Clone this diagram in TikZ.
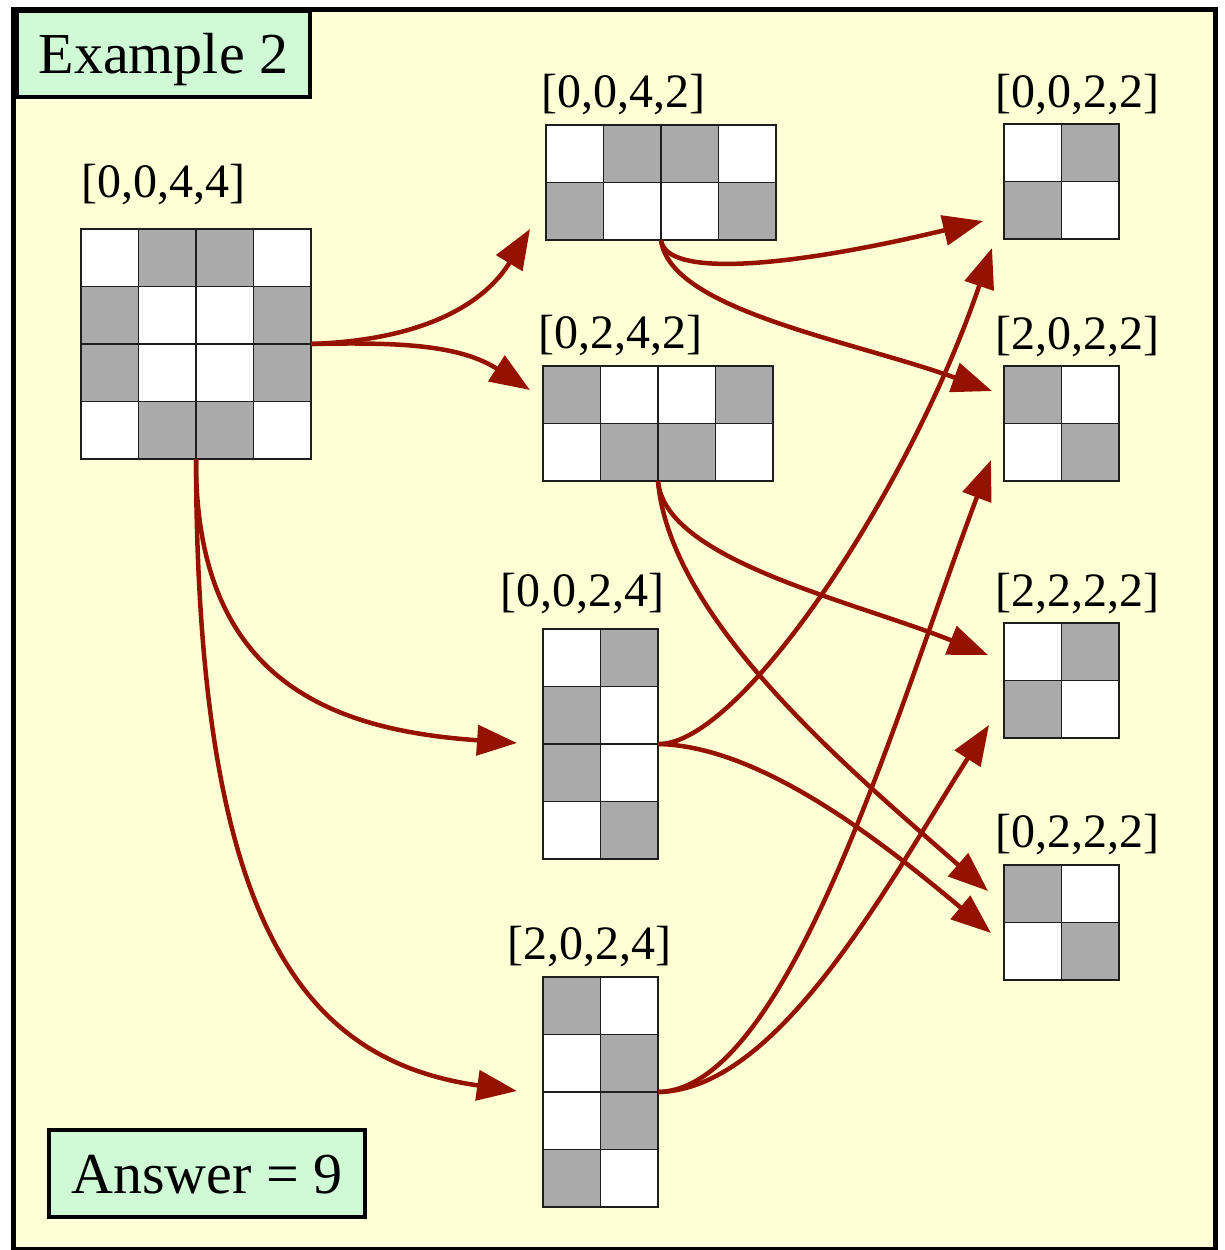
\documentclass[tikz,border=0pt]{standalone}
\usepackage{fontspec}
\setmainfont{Liberation Serif}
\usetikzlibrary{arrows.meta,calc}
\definecolor{bgyellow}{RGB}{255,255,213}
\definecolor{boxgreen}{RGB}{207,250,213}
\definecolor{cellgray}{RGB}{170,170,170}
\definecolor{arrowred}{RGB}{150,18,0}
\definecolor{gridcol}{RGB}{30,30,30}
\newcommand{\graycells}[2]{\foreach \c/\r in {#2}{\fill[cellgray] ($(#1.north west)+(\c*57.5,\r*57.5)$) rectangle ++(57.5,57.5);}}
\newcommand{\celllines}[3]{\foreach \c in {0,...,#2}{\foreach \r in {0,...,#3}{\draw[gridline] ($(#1.north west)+(\c*57.5,\r*57.5)$) rectangle ++(57.5,57.5);}}}
\begin{document}
\begin{tikzpicture}[x=1pt,y=-1pt,
  gridbox/.style={rectangle, fill=white, inner sep=0, outer sep=0},
  gridline/.style={draw=gridcol, line width=1.3pt},
  lbl/.style={font=\fontsize{48}{48}\selectfont, anchor=base, inner sep=0},
  namebox/.style={rectangle, draw=black, line width=4pt, fill=boxgreen, inner sep=0, font=\fontsize{58}{58}\selectfont, text height=40pt, text depth=1pt},
  link/.style={draw=arrowred, line width=4.5pt, -{Triangle[length=40pt,width=30pt]}}]
\useasboundingbox (0,0) rectangle (1224,1250);
\fill[bgyellow] (13,9) rectangle (1215,1249);
\draw[line width=5pt] (13,9) rectangle (1215,1249);

\node[namebox, minimum width=293, minimum height=86] (title) at (163.5,54) {Example 2};
\node[namebox, minimum width=316, minimum height=87] (answer) at (207,1173.5) {Answer = 9};

% grids
\node[gridbox, minimum width=230, minimum height=230] (g1) at (196,344) {};
\node[gridbox, minimum width=230, minimum height=115] (g2) at (661,182.5) {};
\node[gridbox, minimum width=230, minimum height=115] (g3) at (658,423.5) {};
\node[gridbox, minimum width=115, minimum height=230] (g4) at (600.5,744) {};
\node[gridbox, minimum width=115, minimum height=230] (g5) at (600.5,1092) {};
\node[gridbox, minimum width=115, minimum height=115] (r1) at (1061.5,181.5) {};
\node[gridbox, minimum width=115, minimum height=115] (r2) at (1061.5,423.5) {};
\node[gridbox, minimum width=115, minimum height=115] (r3) at (1061.5,680.5) {};
\node[gridbox, minimum width=115, minimum height=115] (r4) at (1061.5,922.5) {};

\graycells{g1}{1/0,2/0,0/1,3/1,0/2,3/2,1/3,2/3}
\graycells{g2}{1/0,2/0,0/1,3/1}
\graycells{g3}{0/0,3/0,1/1,2/1}
\graycells{g4}{1/0,0/1,0/2,1/3}
\graycells{g5}{0/0,1/1,1/2,0/3}
\graycells{r1}{1/0,0/1}
\graycells{r2}{0/0,1/1}
\graycells{r3}{1/0,0/1}
\graycells{r4}{0/0,1/1}

\celllines{g1}{3}{3}
\celllines{g2}{3}{1}
\celllines{g3}{3}{1}
\celllines{g4}{1}{3}
\celllines{g5}{1}{3}
\celllines{r1}{1}{1}
\celllines{r2}{1}{1}
\celllines{r3}{1}{1}
\celllines{r4}{1}{1}

% labels
\node[lbl] (l1) at (163,197) {[0,0,4,4]};
\node[lbl] (l2) at (623,107) {[0,0,4,2]};
\node[lbl] (l3) at (620,348) {[0,2,4,2]};
\node[lbl] (l4) at (582,606) {[0,0,2,4]};
\node[lbl] (l5) at (589,959) {[2,0,2,4]};
\node[lbl] (m1) at (1077,107) {[0,0,2,2]};
\node[lbl] (m2) at (1077,349) {[2,0,2,2]};
\node[lbl] (m3) at (1077,606) {[2,2,2,2]};
\node[lbl] (m4) at (1077,847) {[0,2,2,2]};

% arrow end points
\coordinate (t1) at (530,229);
\coordinate (t2) at (530,390);
\coordinate (t3) at (517,743);
\coordinate (t4) at (517,1091);
\coordinate (t5) at (983,221);
\coordinate (t6) at (992,391);
\coordinate (t7) at (988,655);
\coordinate (t8) at (988,891);
\coordinate (t9) at (992,248);
\coordinate (t10) at (991,933);
\coordinate (t11) at (991,460);
\coordinate (t12) at (989,725);

\draw[link] (g1.east) .. controls (425,340) and (485,303) .. (t1);
\draw[link] (g1.east) .. controls (400,342) and (460,345) .. (t2);
\draw[link] (g1.south) .. controls (195,680) and (330,730) .. (t3);
\draw[link] (g1.south) .. controls (197,920) and (300,1060) .. (t4);
\draw[link] (g2.south) .. controls (666,280) and (800,265) .. (t5);
\draw[link] (g2.south) .. controls (670,310) and (850,340) .. (t6);
\draw[link] (g3.south) .. controls (665,560) and (850,600) .. (t7);
\draw[link] (g3.south) .. controls (670,620) and (850,770) .. (t8);
\draw[link] (g4.east) .. controls (740,746) and (910,490) .. (t9);
\draw[link] (g4.east) .. controls (760,746) and (880,840) .. (t10);
\draw[link] (g5.east) .. controls (790,1090) and (900,700) .. (t11);
\draw[link] (g5.east) .. controls (780,1090) and (890,880) .. (t12);
\end{tikzpicture}
\end{document}
